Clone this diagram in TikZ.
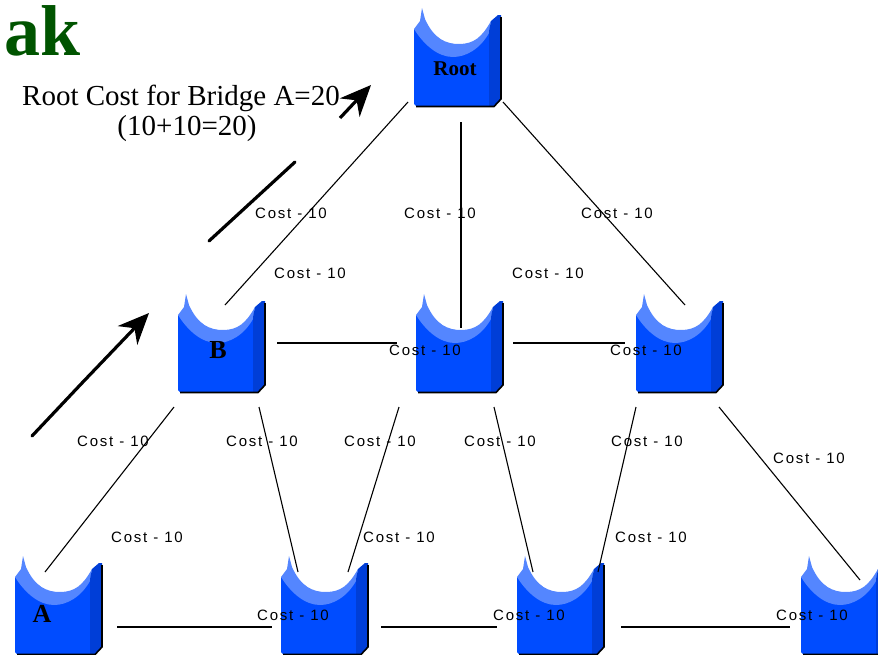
\documentclass[tikz,border=0pt]{standalone}
\usepackage{fontspec}
\usepackage{tikz}
\usetikzlibrary{arrows.meta}

\setmainfont{Liberation Serif}
\newfontfamily\costfont[LetterSpace=12]{Liberation Sans}

\definecolor{bridgeblue}{RGB}{0,76,255}
\definecolor{bridgelight}{RGB}{84,134,255}
\definecolor{bridgedark}{RGB}{0,62,215}
\definecolor{titlegreen}{RGB}{0,84,0}

\tikzset{
  bridgenode/.style={minimum width=87pt, minimum height=98pt, inner sep=0pt},
  bridgelabel/.style={font=\fontsize{21}{21}\selectfont\bfseries, inner sep=0pt},
  biglabel/.style={font=\fontsize{26}{26}\selectfont\bfseries, inner sep=0pt},
  rootcostlabel/.style={font=\fontsize{29}{29}\selectfont, inner sep=0pt},
  link/.style={line width=1.1pt},
  costlabel/.style={font=\costfont\fontsize{15}{15}\selectfont, inner sep=0pt},
  pathmark/.style={line width=3.2pt, line cap=round},
  pathtip/.style={line width=3.2pt, -{Stealth[length=31pt, width=27pt, inset=10pt]}}
}

\newcommand{\bridge}[2]{
  \node[bridgenode] (#1) at (#2) {};
  \begin{scope}[shift={(#2)}]
    \fill[bridgeblue] (-44,-28) -- (-44,47) -- (-42,49) -- (36,49) -- (31,-30) -- (20,-12) -- (-20,-12) -- cycle;
    \fill[bridgelight] (-44,-28) -- (-38,-36) -- (-36,-49) -- (-33,-38)
      .. controls (-24,-18) and (-12,-13) .. (1,-13)
      .. controls (16,-13) and (24,-20) .. (33,-36)
      -- (31,-24) .. controls (22,-8) and (8,0) .. (-5,0)
      .. controls (-20,0) and (-34,-12) .. cycle;
    \fill[bridgedark] (33,-36) -- (40,-42) -- (43,-42) -- (43,42) -- (36,49) -- (31,49) -- (31,-26) -- cycle;
    \draw[line width=1.6pt] (-42,49.5) -- (36,49.5) -- (43,42) -- (43,-40);
  \end{scope}
}

\begin{document}
\begin{tikzpicture}[x=1pt, y=-1pt]

  \useasboundingbox (0,0) rectangle (878,654);
  \clip (0,0) rectangle (878,654);

  \node[anchor=base west, inner sep=0pt, text=titlegreen, font=\fontsize{72}{72}\selectfont\bfseries] (title) at (4,55) {ak};

  \node[rootcostlabel] (rootcost) at (181,98) {Root Cost for Bridge A=20};
  \node[rootcostlabel] (rootsum) at (187,129) {(10+10=20)};


  \bridge{root}{458,57}
  \bridge{bridgeb}{222,343}
  \bridge{midc}{460,343}
  \bridge{midd}{680,343}
  \bridge{bridgea}{59,605}
  \bridge{lowe}{325,605}
  \bridge{lowf}{561,605}
  \bridge{lowg}{845,605}

  \node[bridgelabel] (rootlabel) at ([shift={(-3,12)}]root) {Root};
  \node[biglabel] (blabel) at ([shift={(-4,7)}]bridgeb) {B};
  \node[biglabel] (alabel) at ([shift={(-17,9)}]bridgea) {A};


  \draw[link] ([shift={(-50,45)}]root.center) -- ([shift={(3,-38)}]bridgeb.center);
  \draw[link] ([shift={(3,65)}]root.center) -- ([shift={(1,-15)}]midc.center);
  \draw[link] ([shift={(45,45)}]root.center) -- ([shift={(5,-38)}]midd.center);

  \draw[link] ([shift={(55,0)}]bridgeb.center) -- ([shift={(-63,0)}]midc.center);
  \draw[link] ([shift={(53,0)}]midc.center) -- ([shift={(-55,0)}]midd.center);

  \draw[link] ([shift={(-48,64)}]bridgeb.center) -- ([shift={(-14,-33)}]bridgea.center);
  \draw[link] ([shift={(37,64)}]bridgeb.center) -- ([shift={(-27,-33)}]lowe.center);
  \draw[link] ([shift={(-61,64)}]midc.center) -- ([shift={(23,-33)}]lowe.center);
  \draw[link] ([shift={(34,64)}]midc.center) -- ([shift={(-28,-33)}]lowf.center);
  \draw[link] ([shift={(-44,64)}]midd.center) -- ([shift={(37,-33)}]lowf.center);
  \draw[link] ([shift={(39,64)}]midd.center) -- ([shift={(15,-25)}]lowg.center);

  \draw[link] ([shift={(58,22)}]bridgea.center) -- ([shift={(-53,22)}]lowe.center);
  \draw[link] ([shift={(56,22)}]lowe.center) -- ([shift={(-64,22)}]lowf.center);
  \draw[link] ([shift={(60,22)}]lowf.center) -- ([shift={(-55,22)}]lowg.center);


  \coordinate (lowstart) at (32,436);
  \coordinate (lowtip) at (149,313);
  \draw[pathmark] (lowstart) -- (82,383);
  \draw[pathtip] (82,383) -- (lowtip);

  \coordinate (upstart) at (209,241);
  \coordinate (upend) at (295,162);
  \coordinate (uptail) at (340,118);
  \coordinate (uptip) at (371,85);
  \draw[pathmark] (upstart) -- (upend);
  \draw[pathtip] (uptail) -- (uptip);


  \node[costlabel] (cost1) at (291,213) {Cost - 10};
  \node[costlabel] (cost2) at (440,213) {Cost - 10};
  \node[costlabel] (cost3) at (617,213) {Cost - 10};
  \node[costlabel] (cost4) at (310,273) {Cost - 10};
  \node[costlabel] (cost5) at (548,273) {Cost - 10};
  \node[costlabel] (cost6) at (425,350) {Cost - 10};
  \node[costlabel] (cost7) at (646,350) {Cost - 10};
  \node[costlabel] (cost8) at (113,441) {Cost - 10};
  \node[costlabel] (cost9) at (262,441) {Cost - 10};
  \node[costlabel] (cost10) at (380,441) {Cost - 10};
  \node[costlabel] (cost11) at (500,441) {Cost - 10};
  \node[costlabel] (cost12) at (647,441) {Cost - 10};
  \node[costlabel] (cost13) at (809,458) {Cost - 10};
  \node[costlabel] (cost14) at (147,537) {Cost - 10};
  \node[costlabel] (cost15) at (399,537) {Cost - 10};
  \node[costlabel] (cost16) at (651,537) {Cost - 10};
  \node[costlabel] (cost17) at (293,615) {Cost - 10};
  \node[costlabel] (cost18) at (529,615) {Cost - 10};
  \node[costlabel] (cost19) at (812,615) {Cost - 10};

\end{tikzpicture}
\end{document}
